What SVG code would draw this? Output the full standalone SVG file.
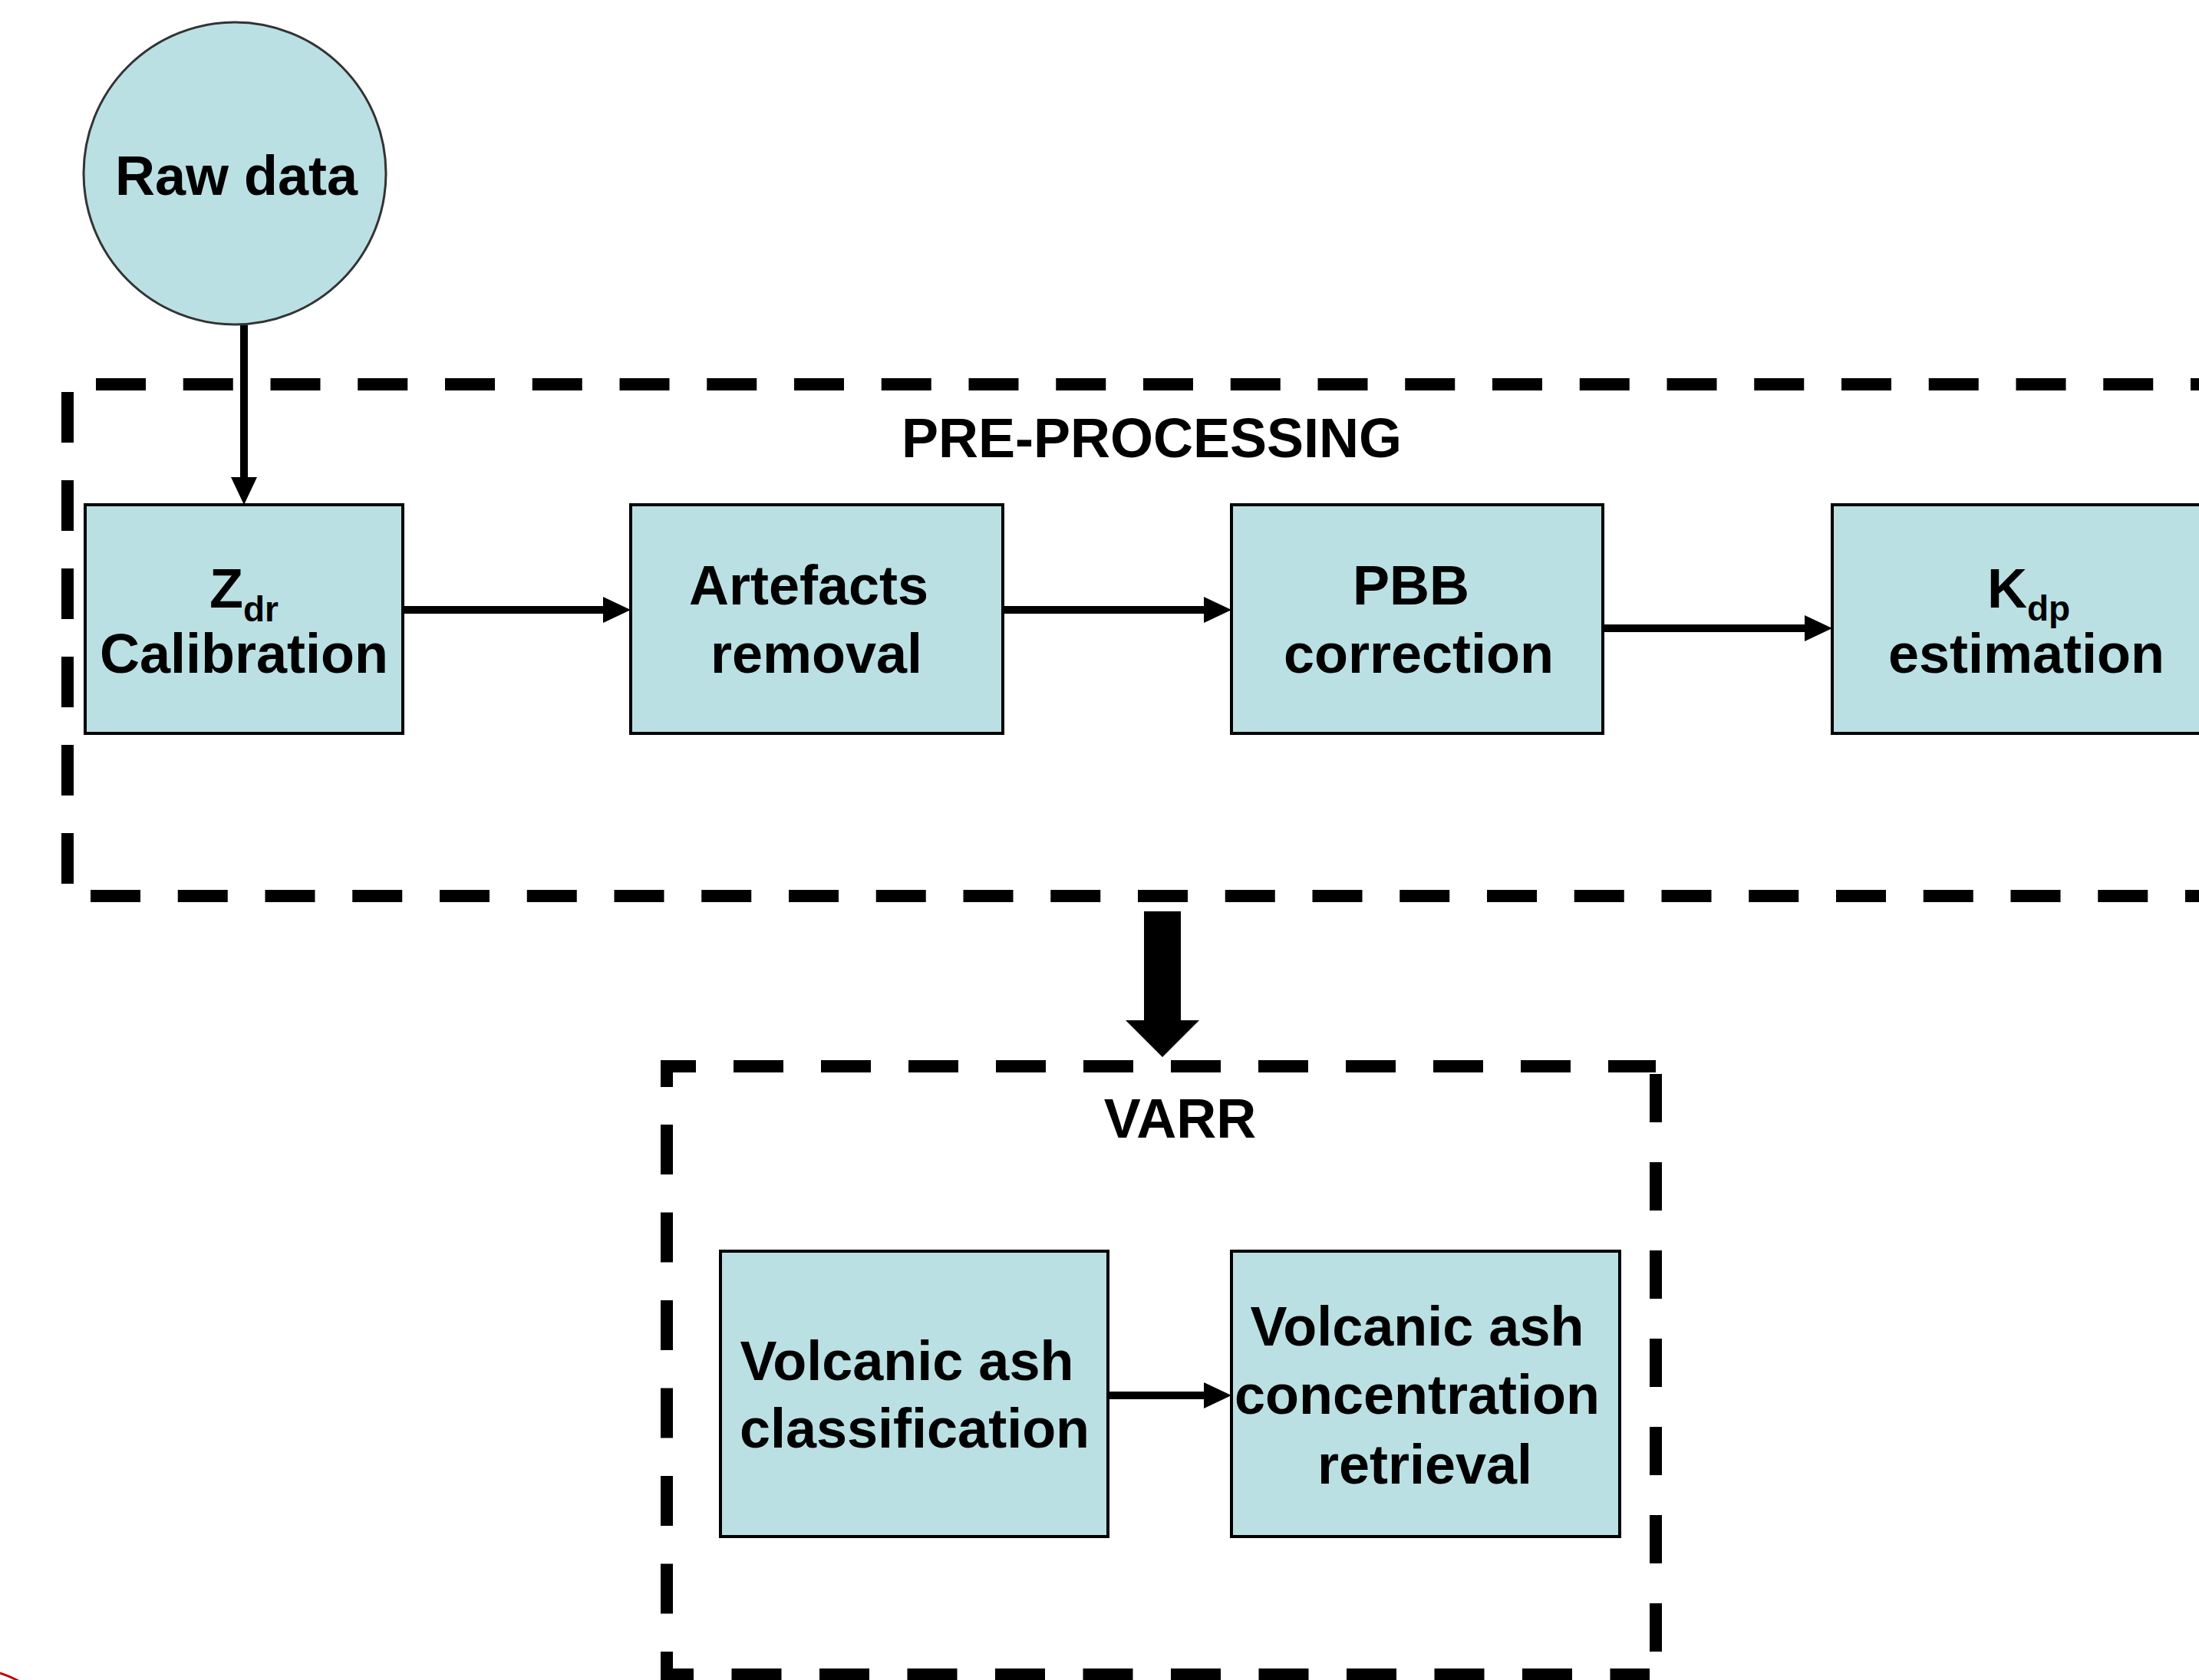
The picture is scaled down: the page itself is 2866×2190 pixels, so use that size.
<svg xmlns="http://www.w3.org/2000/svg" width="2866" height="2190" viewBox="0 0 2866 2190">
<style>
.bg{fill:#ffffff}
.box{fill:#BAE0E3;stroke:#000;stroke-width:4}
.circ{fill:#BAE0E3;stroke:#333;stroke-width:3}
.t{font-family:"Liberation Sans",Arial,sans-serif;font-weight:bold;font-size:72px;fill:#000;text-anchor:middle}
.sub{font-size:46px}
.dash{fill:none;stroke:#000;stroke-width:16;stroke-dasharray:65 48.75}
.conn{fill:none;stroke:#000;stroke-width:10}
</style>
<defs>
<marker id="ah" markerUnits="userSpaceOnUse" viewBox="0 0 36 34" markerWidth="36" markerHeight="34" refX="6" refY="17" orient="auto">
<path d="M0,0 L36,17 L0,34 Z" fill="#000"/>
</marker>
</defs>
<rect class="bg" x="0" y="0" width="2866" height="2190"/>

<g id="groups">
<g id="pre-processing">
<line class="dash" x1="125" y1="501" x2="2866" y2="501"/>
<line class="dash" x1="88" y1="511" x2="88" y2="1160" style="stroke-dasharray:66 49"/>
<line class="dash" x1="118" y1="1168" x2="2866" y2="1168"/>
<text class="t" x="1501" y="596">PRE-PROCESSING</text>
</g>
<g id="varr">
<path class="dash" d="M869,1417 V1390 H2158" style="stroke-dasharray:65 49"/>
<path class="dash" d="M869,1466 V2183 H2150" style="stroke-dasharray:65 49.5"/>
<path class="dash" d="M2158,1400 V2160" style="stroke-dasharray:63 52"/>
<text class="t" x="1538" y="1483">VARR</text>
</g>
</g>

<g id="connectors">
<line class="conn" x1="318" y1="424" x2="318" y2="628" marker-end="url(#ah)"/>
<line class="conn" x1="525" y1="795" x2="792" y2="795" marker-end="url(#ah)"/>
<line class="conn" x1="1307" y1="795" x2="1575" y2="795" marker-end="url(#ah)"/>
<line class="conn" x1="2089" y1="819" x2="2358" y2="819" marker-end="url(#ah)"/>
<line class="conn" x1="1444" y1="1819" x2="1575" y2="1819" marker-end="url(#ah)"/>
<polygon points="1491,1188 1539,1188 1539,1330 1563,1330 1515,1378 1467,1330 1491,1330" fill="#000"/>
</g>

<g id="raw-data">
<circle class="circ" cx="306" cy="226" r="197"/>
<text class="t" x="308" y="254">Raw data</text>
</g>

<g id="zdr-calibration">
<rect class="box" x="111" y="658" width="414" height="298"/>
<text class="t" x="318" y="792">Z<tspan class="sub" dy="18">dr</tspan></text>
<text class="t" x="318" y="877">Calibration</text>
</g>

<g id="artefacts-removal">
<rect class="box" x="822" y="658" width="485" height="298"/>
<text class="t" x="1054" y="788">Artefacts</text>
<text class="t" x="1064" y="877">removal</text>
</g>

<g id="pbb-correction">
<rect class="box" x="1605" y="658" width="484" height="298"/>
<text class="t" x="1839" y="788">PBB</text>
<text class="t" x="1849" y="877">correction</text>
</g>

<g id="kdp-estimation">
<rect class="box" x="2388" y="658" width="520" height="298"/>
<text class="t" x="2644" y="792">K<tspan class="sub" dy="17">dp</tspan></text>
<text class="t" x="2641" y="877">estimation</text>
</g>

<g id="volcanic-ash-classification">
<rect class="box" x="939" y="1631" width="505" height="372"/>
<text class="t" x="1182" y="1799">Volcanic ash</text>
<text class="t" x="1192" y="1887">classification</text>
</g>

<g id="volcanic-ash-concentration-retrieval">
<rect class="box" x="1605" y="1631" width="506" height="372"/>
<text class="t" x="1847" y="1754">Volcanic ash</text>
<text class="t" x="1847" y="1843">concentration</text>
<text class="t" x="1857" y="1934">retrieval</text>
</g>

<path d="M0,2181 Q12,2185 24,2191" fill="none" stroke="#C00000" stroke-width="3"/>
</svg>
